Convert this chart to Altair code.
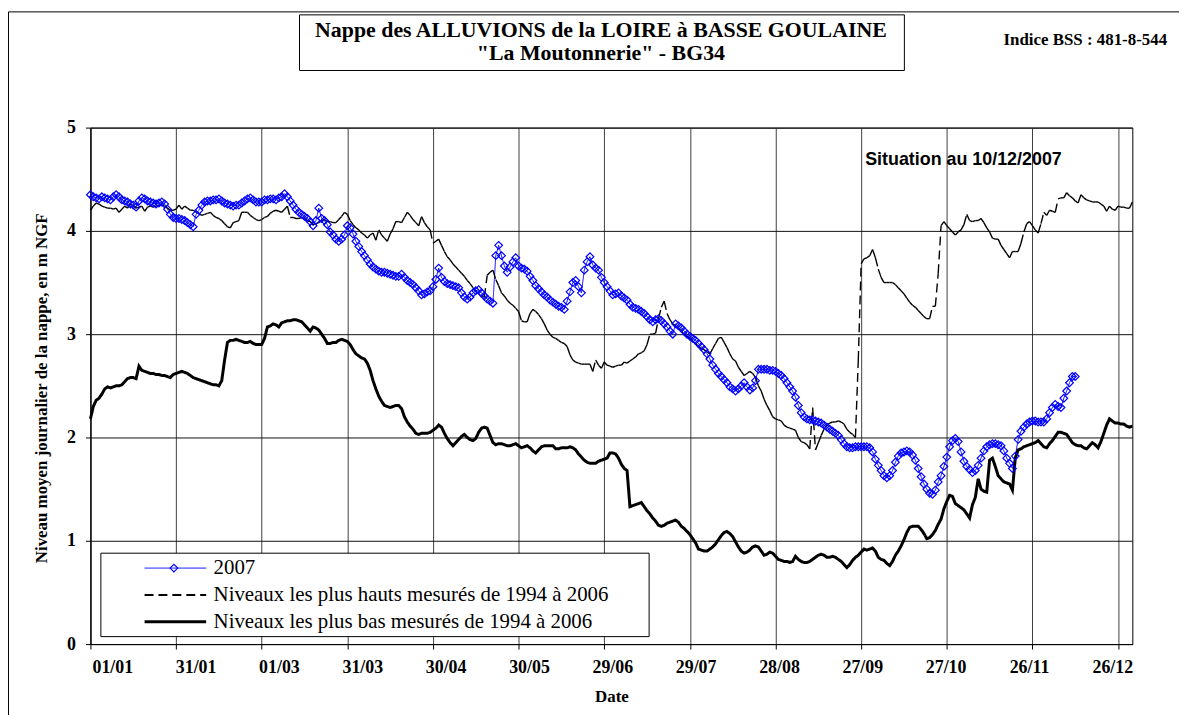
import altair as alt
import pandas as pd

# ---------------- data ----------------
SERIES_NAMES = [
    "2007",
    "Niveaux les plus hauts mesurés de 1994 à 2006",
    "Niveaux les plus bas mesurés de 1994 à 2006",
]
TICK_DAYS = [0, 30, 60, 90, 120, 150, 180, 210, 240, 270, 300, 330, 360]
TICK_LABELS = ["01/01", "31/01", "01/03", "31/03", "30/04", "30/05", "29/06",
               "29/07", "28/08", "27/09", "27/10", "26/11", "26/12"]
Y_TICKS = [0, 1, 2, 3, 4, 5]

# daily level 2007 (m NGF), from 01/01 to 10/12
level_2007 = [
    4.35, 4.33, 4.32, 4.31, 4.33, 4.32, 4.31, 4.30, 4.33, 4.35,
    4.33, 4.30, 4.29, 4.28, 4.26, 4.25, 4.23, 4.29, 4.32, 4.31,
    4.29, 4.28, 4.27, 4.26, 4.27, 4.28, 4.26, 4.21, 4.16, 4.13,
    4.12, 4.12, 4.11, 4.10, 4.08, 4.06, 4.04, 4.16, 4.20, 4.25,
    4.28, 4.29, 4.29, 4.30, 4.30, 4.31, 4.29, 4.27, 4.26, 4.25,
    4.24, 4.25, 4.25, 4.27, 4.29, 4.31, 4.32, 4.30, 4.28, 4.28,
    4.28, 4.30, 4.30, 4.31, 4.31, 4.30, 4.32, 4.33, 4.36, 4.33,
    4.29, 4.25, 4.21, 4.18, 4.16, 4.14, 4.12, 4.09, 4.05, 4.10,
    4.22, 4.12, 4.10, 4.06, 3.99, 3.96, 3.92, 3.90, 3.92, 3.96,
    4.05, 4.03, 3.97, 3.90, 3.85, 3.80, 3.76, 3.72, 3.68, 3.65,
    3.63, 3.61, 3.60, 3.60, 3.59, 3.58, 3.57, 3.56, 3.56, 3.58,
    3.55, 3.52, 3.50, 3.48, 3.45, 3.42, 3.38, 3.39, 3.41, 3.42,
    3.46, 3.53, 3.64, 3.55, 3.51, 3.49, 3.48, 3.47, 3.46, 3.45,
    3.40, 3.36, 3.34, 3.36, 3.40, 3.42, 3.43, 3.40, 3.37, 3.34,
    3.32, 3.30, 3.76, 3.86, 3.76, 3.66, 3.60, 3.65, 3.70, 3.74,
    3.66, 3.64, 3.63, 3.61, 3.56, 3.52, 3.47, 3.44, 3.41, 3.38,
    3.36, 3.33, 3.31, 3.29, 3.27, 3.26, 3.24, 3.32, 3.41, 3.50,
    3.52, 3.46, 3.40, 3.62, 3.70, 3.75, 3.67, 3.64, 3.62, 3.55,
    3.50, 3.46, 3.42, 3.38, 3.39, 3.40, 3.37, 3.35, 3.33, 3.29,
    3.26, 3.25, 3.24, 3.22, 3.20, 3.17, 3.14, 3.12, 3.14, 3.15,
    3.13, 3.10, 3.07, 3.03, 3.00, 3.10, 3.08, 3.06, 3.03, 3.00,
    2.98, 2.96, 2.94, 2.91, 2.88, 2.85, 2.81, 2.76, 2.70, 2.66,
    2.62, 2.59, 2.56, 2.53, 2.49, 2.47, 2.45, 2.47, 2.50, 2.53,
    2.49, 2.46, 2.48, 2.55, 2.66, 2.66, 2.66, 2.66, 2.65, 2.65,
    2.64, 2.62, 2.60, 2.57, 2.53, 2.49, 2.45, 2.39, 2.31, 2.24,
    2.20, 2.18, 2.17, 2.17, 2.16, 2.15, 2.14, 2.12, 2.10, 2.08,
    2.06, 2.04, 2.02, 1.98, 1.94, 1.91, 1.90, 1.90, 1.91, 1.91,
    1.91, 1.91, 1.91, 1.90, 1.86, 1.79, 1.73, 1.68, 1.63, 1.61,
    1.63, 1.68, 1.76, 1.82, 1.85, 1.86, 1.87, 1.86, 1.83, 1.78,
    1.70, 1.62, 1.55, 1.50, 1.46, 1.45, 1.49, 1.57, 1.63, 1.72,
    1.81, 1.91, 1.97, 1.99, 1.96, 1.86, 1.77, 1.72, 1.69, 1.66,
    1.68, 1.73, 1.80, 1.87, 1.91, 1.93, 1.94, 1.94, 1.93, 1.92,
    1.87, 1.80, 1.75, 1.70, 1.82, 1.98, 2.06, 2.10, 2.13, 2.15,
    2.16, 2.16, 2.15, 2.15, 2.15, 2.18, 2.24, 2.29, 2.32, 2.30,
    2.29, 2.38, 2.45, 2.53, 2.59, 2.59,
]

# daily highest levels 1994-2006
level_max = [
    4.20, 4.24, 4.27, 4.26, 4.24, 4.23, 4.22, 4.22, 4.21, 4.22,
    4.18, 4.21, 4.24, 4.22, 4.26, 4.24, 4.22, 4.23, 4.24, 4.19,
    4.23, 4.24, 4.23, 4.24, 4.25, 4.25, 4.24, 4.22, 4.20, 4.20,
    4.21, 4.25, 4.21, 4.24, 4.22, 4.20, 4.20, 4.18, 4.17, 4.15,
    4.16, 4.17, 4.18, 4.15, 4.13, 4.12, 4.10, 4.07, 4.04, 4.03,
    4.08, 4.09, 4.10, 4.18, 4.18, 4.18, 4.15, 4.13, 4.11, 4.10,
    4.11, 4.13, 4.14, 4.17, 4.19, 4.20, 4.19, 4.18, 4.21, 4.24,
    4.13, 4.13, 4.12, 4.12, 4.13, 4.12, 4.10, 4.09, 4.06, 4.07,
    4.08, 4.10, 4.11, 4.09, 4.09, 4.08, 4.08, 4.11, 4.14, 4.18,
    4.16, 4.10, 4.06, 4.03, 4.01, 3.98, 3.96, 3.93, 3.96, 3.98,
    3.91, 4.01, 3.96, 3.93, 3.90, 3.97, 4.02, 4.09, 4.09, 4.08,
    4.13, 4.18, 4.15, 4.11, 4.08, 4.05, 4.14, 4.08, 4.04, 4.01,
    3.88, 3.90, 3.92, 3.86, 3.80, 3.75, 3.72, 3.68, 3.65, 3.62,
    3.59, 3.56, 3.52, 3.49, 3.45, 3.42, 3.39, 3.36, 3.36, 3.57,
    3.60, 3.62, 3.53, 3.47, 3.40, 3.37, 3.33, 3.30, 3.28, 3.25,
    3.22, 3.13, 3.12, 3.12, 3.20, 3.24, 3.22, 3.19, 3.15, 3.10,
    3.04, 3.00, 2.97, 2.96, 2.94, 2.92, 2.91, 2.88, 2.80, 2.75,
    2.73, 2.72, 2.71, 2.71, 2.71, 2.71, 2.64, 2.75, 2.70, 2.67,
    2.73, 2.70, 2.69, 2.68, 2.69, 2.70, 2.70, 2.73, 2.72, 2.74,
    2.76, 2.78, 2.81, 2.82, 2.84, 2.90, 3.00, 3.00, 3.01, 3.15,
    3.26, 3.32, 3.20, 3.14, 3.10, 3.08, 3.06, 3.03, 3.00, 2.98,
    2.96, 2.93, 2.91, 2.88, 2.86, 2.85, 2.83, 2.81, 2.86, 2.91,
    2.96, 2.97, 2.92, 2.87, 2.81, 2.76, 2.74, 2.68, 2.64, 2.60,
    2.62, 2.64, 2.62, 2.58, 2.50, 2.45, 2.37, 2.31, 2.26, 2.20,
    2.18, 2.17, 2.16, 2.12, 2.10, 2.09, 2.08, 2.07, 2.00, 1.96,
    1.95, 1.93, 1.89, 2.29, 1.88, 1.95, 2.02, 2.08, 2.12, 2.14,
    2.15, 2.15, 2.16, 2.15, 2.13, 2.08, 2.05, 2.03, 2.00, 2.75,
    3.68, 3.73, 3.74, 3.76, 3.82, 3.74, 3.63, 3.55, 3.50, 3.50,
    3.50, 3.50, 3.48, 3.45, 3.42, 3.39, 3.35, 3.31, 3.28, 3.26,
    3.23, 3.20, 3.17, 3.15, 3.15, 3.27, 3.27, 3.59, 4.05, 4.09,
    4.05, 4.02, 3.99, 3.96, 3.99, 4.01, 4.06, 4.16, 4.10, 4.09,
    4.10, 4.10, 4.12, 4.08, 4.03, 3.99, 3.93, 3.92, 3.92, 3.86,
    3.82, 3.78, 3.74, 3.80, 3.80, 3.80, 3.88, 3.99, 4.07, 4.09,
    4.05, 4.01, 3.98, 4.07, 4.18, 4.15, 4.20, 4.19, 4.18, 4.31,
    4.32, 4.32, 4.37, 4.34, 4.32, 4.29, 4.27, 4.35, 4.32, 4.30,
    4.29, 4.28, 4.28, 4.28, 4.26, 4.24, 4.19, 4.24, 4.21, 4.20,
    4.24, 4.23, 4.23, 4.22, 4.22, 4.28,
]

# daily lowest levels 1994-2006
level_min = [
    2.18, 2.30, 2.36, 2.38, 2.42, 2.47, 2.49, 2.48, 2.49, 2.50,
    2.50, 2.51, 2.54, 2.57, 2.58, 2.58, 2.57, 2.69, 2.65, 2.64,
    2.63, 2.62, 2.62, 2.61, 2.61, 2.60, 2.60, 2.59, 2.58, 2.61,
    2.62, 2.63, 2.64, 2.63, 2.62, 2.60, 2.58, 2.57, 2.56, 2.55,
    2.54, 2.53, 2.52, 2.51, 2.51, 2.50, 2.55, 2.75, 2.92, 2.94,
    2.94, 2.95, 2.94, 2.93, 2.92, 2.92, 2.93, 2.91, 2.90, 2.90,
    2.90, 2.96, 3.07, 3.08, 3.10, 3.09, 3.07, 3.11, 3.12, 3.13,
    3.13, 3.14, 3.14, 3.13, 3.12, 3.09, 3.06, 3.03, 3.07, 3.06,
    3.04, 3.00, 2.96, 2.91, 2.91, 2.92, 2.92, 2.94, 2.95, 2.94,
    2.93, 2.90, 2.85, 2.81, 2.79, 2.77, 2.76, 2.72, 2.65, 2.55,
    2.47, 2.40, 2.35, 2.31, 2.30, 2.29, 2.30, 2.31, 2.31, 2.28,
    2.20, 2.15, 2.11, 2.08, 2.04, 2.03, 2.04, 2.04, 2.04, 2.05,
    2.07, 2.09, 2.12, 2.10, 2.04, 1.99, 1.95, 1.92, 1.95, 1.98,
    2.01, 2.03, 2.00, 1.98, 1.97, 1.99, 2.05, 2.09, 2.10, 2.09,
    2.02, 1.95, 1.93, 1.94, 1.94, 1.93, 1.92, 1.92, 1.93, 1.94,
    1.92, 1.90, 1.91, 1.92, 1.90, 1.87, 1.85, 1.88, 1.91, 1.92,
    1.92, 1.92, 1.92, 1.89, 1.89, 1.90, 1.90, 1.90, 1.91, 1.90,
    1.88, 1.84, 1.81, 1.78, 1.76, 1.75, 1.75, 1.75, 1.77, 1.78,
    1.79, 1.80, 1.85, 1.85, 1.84, 1.80, 1.74, 1.70, 1.68, 1.33,
    1.34, 1.35, 1.36, 1.37, 1.33, 1.29, 1.26, 1.22, 1.19, 1.15,
    1.14, 1.15, 1.17, 1.18, 1.19, 1.20, 1.18, 1.14, 1.12, 1.09,
    1.06, 1.02, 0.98, 0.92, 0.91, 0.90, 0.90, 0.92, 0.94, 0.97,
    1.01, 1.05, 1.08, 1.09, 1.07, 1.04, 0.99, 0.94, 0.90, 0.88,
    0.89, 0.91, 0.94, 0.95, 0.94, 0.90, 0.86, 0.87, 0.89, 0.88,
    0.85, 0.82, 0.81, 0.80, 0.80, 0.79, 0.80, 0.85, 0.82, 0.80,
    0.79, 0.79, 0.80, 0.82, 0.84, 0.86, 0.87, 0.86, 0.84, 0.84,
    0.85, 0.84, 0.82, 0.80, 0.77, 0.74, 0.77, 0.81, 0.84, 0.86,
    0.89, 0.92, 0.91, 0.92, 0.93, 0.90, 0.84, 0.82, 0.81, 0.78,
    0.76, 0.80, 0.86, 0.90, 0.95, 1.01, 1.08, 1.13, 1.14, 1.14,
    1.14, 1.11, 1.07, 1.02, 1.03, 1.06, 1.10, 1.16, 1.21, 1.31,
    1.38, 1.44, 1.43, 1.36, 1.34, 1.32, 1.30, 1.26, 1.22, 1.35,
    1.42, 1.60, 1.50, 1.48, 1.47, 1.78, 1.80, 1.72, 1.63, 1.60,
    1.57, 1.56, 1.55, 1.49, 1.80, 1.88, 1.89, 1.91, 1.92, 1.93,
    1.94, 1.95, 1.97, 1.94, 1.91, 1.90, 1.94, 1.97, 2.01, 2.05,
    2.05, 2.04, 2.03, 1.99, 1.95, 1.93, 1.92, 1.92, 1.90, 1.89,
    1.92, 1.95, 1.93, 1.90, 1.96, 2.04, 2.12, 2.18, 2.16, 2.14,
    2.14, 2.13, 2.13, 2.11, 2.10, 2.11,
]

# ---------------- tables ----------------
rows = []
for name, vals in ((SERIES_NAMES[0], level_2007), (SERIES_NAMES[2], level_min)):
    for i, v in enumerate(vals):
        rows.append({"jour": i, "niveau": v, "serie": name})
df = pd.DataFrame(rows)
df07 = df[df["serie"] == SERIES_NAMES[0]]

# the dashed series is drawn day-segment by day-segment (dash restarts on each)
seg_rows = []
for i in range(len(level_max) - 1):
    seg_rows.append({"seg": i, "jour": i, "niveau": level_max[i]})
    seg_rows.append({"seg": i, "jour": i + 1, "niveau": level_max[i + 1]})
df_max = pd.DataFrame(seg_rows)

BLUE = "#0000ff"
SERIF = "Liberation Serif"
label_expr = "[" + ",".join(f"'{t}'" for t in TICK_LABELS) + "][round(datum.value/30)]"
DASH = [9, 5]
LABEL_FONT = dict(labelFont=SERIF, labelFontWeight="bold", labelFontSize=18, labelColor="black")

x_enc = alt.X(
    "jour:Q",
    scale=alt.Scale(domain=[0, 365], nice=False, zero=False),
    axis=alt.Axis(
        values=TICK_DAYS, labels=False, title="Date",
        grid=True, gridColor="#404040", gridWidth=1,
        tickSize=5, tickColor="black", domainColor="black",
        titleFont=SERIF, titleFontWeight="bold", titleFontSize=17, titleColor="black",
        titleY=53, titleBaseline="middle",
    ),
)
y_enc = alt.Y(
    "niveau:Q",
    scale=alt.Scale(domain=[0, 5], nice=False),
    axis=alt.Axis(
        values=Y_TICKS, format="d", title="Niveau moyen journalier de la nappe, en m NGF",
        grid=True, gridColor="#111111", gridWidth=1,
        tickSize=5, tickColor="black", domainColor="black",
        labelPadding=10, **LABEL_FONT,
        titleFont=SERIF, titleFontWeight="bold", titleFontSize=17, titleColor="black",
        titleX=-49, titleY=262, titleBaseline="middle",
    ),
)

legend = alt.Legend(
    title=None, orient="none", legendX=53, legendY=430,
    symbolType="stroke", symbolSize=3844, clipHeight=27, rowPadding=0, padding=0,
    labelFont=SERIF, labelFontSize=21, labelFontWeight="normal", labelColor="black",
    labelLimit=700, labelOffset=6,
)

lines = alt.Chart(df).mark_line().encode(
    x=x_enc,
    y=y_enc,
    color=alt.Color("serie:N", scale=alt.Scale(domain=SERIES_NAMES, range=[BLUE, "black", "black"]),
                    legend=legend),
    strokeDash=alt.StrokeDash("serie:N", scale=alt.Scale(domain=SERIES_NAMES,
                                                         range=[[1, 0], DASH, [1, 0]])),
    strokeWidth=alt.StrokeWidth("serie:N", scale=alt.Scale(type="ordinal", domain=SERIES_NAMES,
                                                           range=[1, 2, 3])),
)

high = alt.Chart(df_max).mark_line(color="black", strokeWidth=1.4, strokeDash=DASH).encode(
    x="jour:Q", y="niveau:Q", detail="seg:N")

points = alt.Chart(df07).mark_point(
    shape="diamond", filled=False, size=60, color=BLUE, strokeWidth=1.2, opacity=1
).encode(x="jour:Q", y="niveau:Q")

# date labels, spread the way the original software spread them under the axis
label_axis = alt.Chart(df07).mark_point(opacity=0).encode(
    x=alt.X("jour:Q",
            scale=alt.Scale(domain=[-7.87, 367.2], nice=False, zero=False),
            axis=alt.Axis(orient="bottom", values=TICK_DAYS, labelExpr=label_expr, title=None,
                          grid=False, domain=False, ticks=True, tickOpacity=0, tickSize=5,
                          labelPadding=10, labelFlush=False, labelOverlap=False, **LABEL_FONT)),
    y=alt.value(0),
)

one = alt.Data(values=[{}])


def text(s, x, y, size, font=SERIF, weight="bold", align="center"):
    return alt.Chart(one).mark_text(
        text=s, font=font, fontSize=size, fontWeight=weight, align=align,
        baseline="middle", color="black"
    ).encode(x=alt.value(x), y=alt.value(y))


frame = alt.Chart(one).mark_rect(fillOpacity=0, stroke="black", strokeWidth=1).encode(
    x=alt.value(-82.5), x2=alt.value(1300), y=alt.value(-116.5), y2=alt.value(800))
title_box = alt.Chart(one).mark_rect(fill="white", stroke="black", strokeWidth=1).encode(
    x=alt.value(210.5), x2=alt.value(819.5), y=alt.value(-113.5), y2=alt.value(-57.5))
legend_box = alt.Chart(one).mark_rect(fill="white", stroke="black", strokeWidth=1).encode(
    x=alt.value(10.5), x2=alt.value(562.5), y=alt.value(428.5), y2=alt.value(512.5))
legend_marker = alt.Chart(one).mark_point(
    shape="diamond", filled=False, size=60, color=BLUE, strokeWidth=1.2, opacity=1
).encode(x=alt.value(84), y=alt.value(443.5))

main = alt.layer(
    legend_box,
    lines,
    high,
    points,
    legend_marker,
    frame,
    title_box,
    text("Nappe des ALLUVIONS de la LOIRE à BASSE GOULAINE", 514, -98, 22),
    text("\"La Moutonnerie\" - BG34", 514, -75, 22),
    text("Indice BSS : 481-8-544", 1084, -88, 17, align="right"),
    text("Situation au 10/12/2007", 879, 33, 18, font="Liberation Sans"),
)

chart = alt.layer(main, label_axis).resolve_scale(x="independent").properties(
    width=1049,
    height=520,
    padding={"left": 83, "top": 118, "right": 47, "bottom": 69},
    autosize=alt.AutoSizeParams(type="none"),
    background="white",
).configure_view(stroke="black", strokeWidth=1)

chart.save("out.html", embed_options={"renderer": "svg", "actions": False})
